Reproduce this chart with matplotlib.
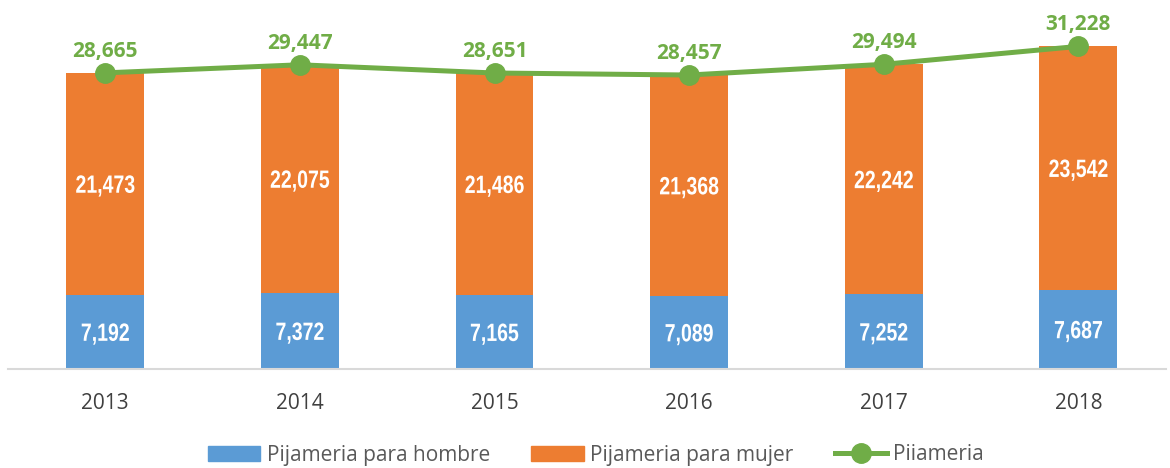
import matplotlib
matplotlib.use("Agg")
import matplotlib.pyplot as plt
import numpy as np
from matplotlib.patches import Patch, PathPatch
from matplotlib.lines import Line2D
from matplotlib.textpath import TextPath
from matplotlib.font_manager import FontProperties
from matplotlib.transforms import Affine2D, ScaledTranslation

years = ["2013", "2014", "2015", "2016", "2017", "2018"]
hombre = [7192, 7372, 7165, 7089, 7252, 7687]
mujer = [21473, 22075, 21486, 21368, 22242, 23542]
total = [28665, 29447, 28651, 28457, 29494, 31228]

BLUE = "#5B9BD5"
ORANGE = "#ED7D31"
GREEN = "#70AD47"
DPI = 100

fig = plt.figure(figsize=(11.7, 4.68), dpi=DPI)
ax = fig.add_axes([8/1170, (468-369)/468, 1158/1170, 359/468])
x = np.arange(len(years))
w = 0.4
ax.bar(x, hombre, w, color=BLUE, zorder=2)
ax.bar(x, mujer, w, bottom=hombre, color=ORANGE, zorder=2)
ax.plot(x, total, color=GREEN, lw=3.6, marker="o", markersize=14, zorder=3)

narrow_fp = FontProperties(family="Liberation Sans", weight="bold")


def narrow_text(xd, yd, s, size=18, sx=0.78):
    tp = TextPath((0, 0), s, size=size, prop=narrow_fp)
    ext = tp.get_extents()
    cx = (ext.x0 + ext.x1) / 2
    cy = size * 0.716 / 2
    k = DPI / 72
    tr = Affine2D().translate(-cx, -cy).scale(sx * k, k) + ScaledTranslation(xd, yd, ax.transData)
    ax.add_patch(PathPatch(tp, transform=tr, facecolor="white", edgecolor="none", zorder=4))


for i in range(len(years)):
    narrow_text(x[i], hombre[i] / 2, f"{hombre[i]:,}")
    narrow_text(x[i], hombre[i] + mujer[i] / 2, f"{mujer[i]:,}")
    ax.annotate(f"{total[i]:,}", (x[i], total[i]), xytext=(0, 8), textcoords="offset points",
                ha="center", va="bottom", color=GREEN, fontsize=15, fontweight="bold",
                family="Open Sans", zorder=5)

ax.set_xlim(-0.5, 5.45)
ax.set_ylim(0, 34750)
ax.set_yticks([])
ax.set_xticks(x)
ax.set_xticklabels(years, fontsize=15, color="#404040", family="Open Sans")
ax.tick_params(axis="x", length=0, pad=17)
for s in ["top", "right", "left"]:
    ax.spines[s].set_visible(False)
ax.spines["bottom"].set_color("#D9D9D9")
ax.spines["bottom"].set_linewidth(1.5)

handles = [Patch(color=BLUE), Patch(color=ORANGE),
           Line2D([], [], color=GREEN, lw=3.6, marker="o", markersize=14)]
labels = ["Pijameria para hombre", "Pijameria para mujer", "Piiameria"]
leg = fig.legend(handles, labels, loc="center", bbox_to_anchor=(0.5 + 11/1170, 13/468), ncol=3,
                 frameon=False, prop={"family": "Open Sans", "size": 15}, handlelength=2.5,
                 handleheight=0.75, columnspacing=2.0, handletextpad=0.3)
for t in leg.get_texts():
    t.set_color("#595959")

fig.savefig("out.png", dpi=DPI)
